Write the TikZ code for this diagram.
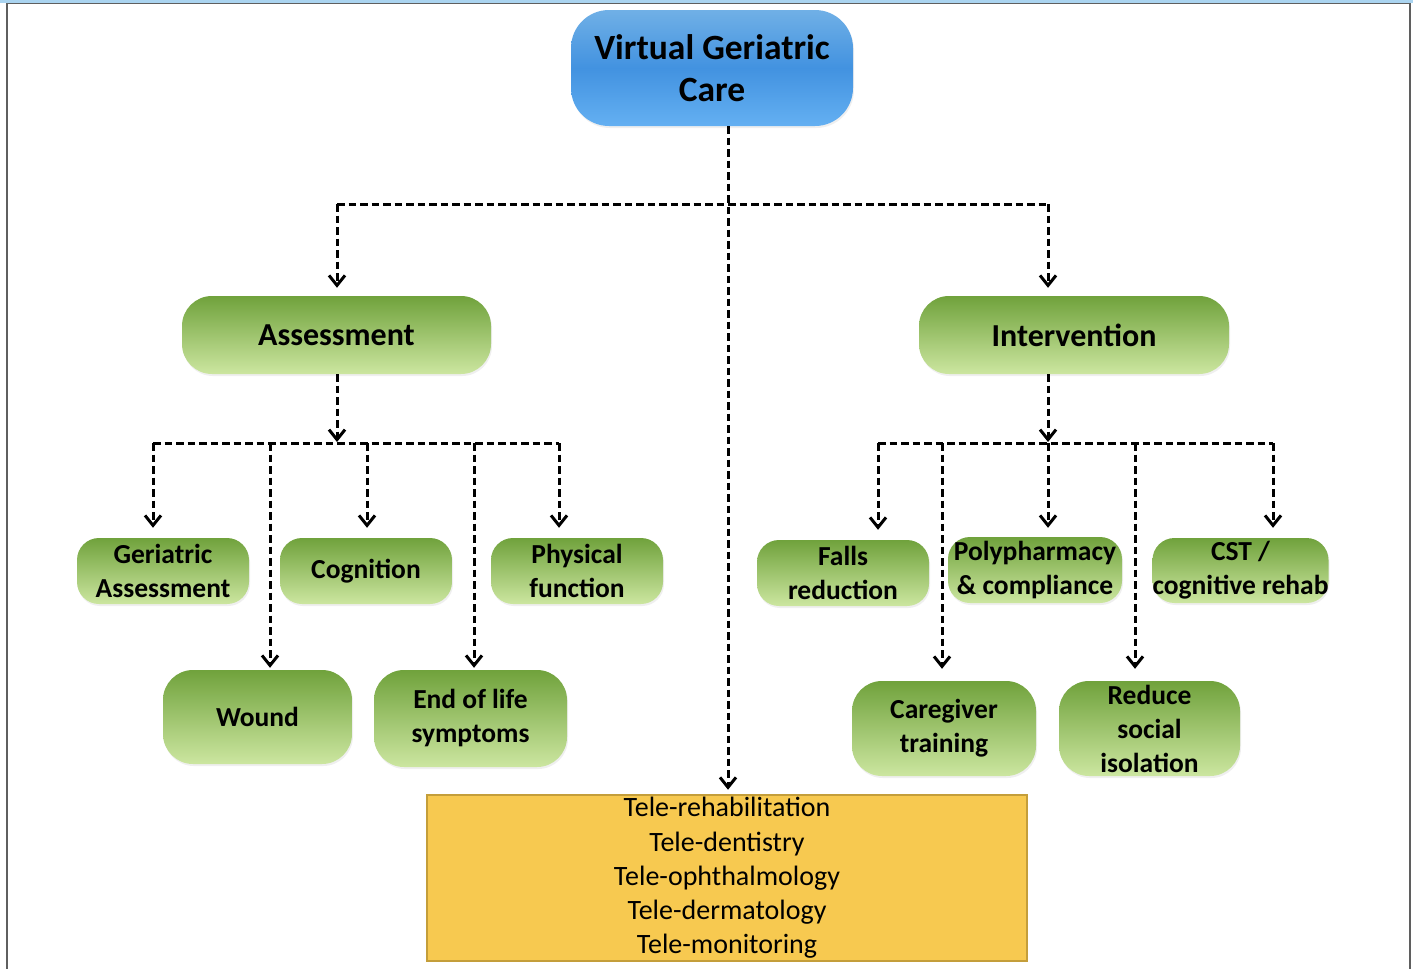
\documentclass[tikz,border=0pt]{standalone}
\usepackage{fontspec}
\setmainfont{Carlito}
\usetikzlibrary{arrows.meta,shadows}

\definecolor{gtop}{RGB}{112,162,60}
\definecolor{gbot}{RGB}{204,230,160}
\definecolor{btop}{RGB}{112,176,230}
\definecolor{bmid}{RGB}{66,146,224}
\definecolor{bbot}{RGB}{100,176,242}
\definecolor{yfill}{RGB}{247,201,80}
\definecolor{ydraw}{RGB}{196,158,58}
\definecolor{framegray}{RGB}{95,95,95}
\definecolor{frameblue}{RGB}{170,212,240}

\begin{document}
\begin{tikzpicture}[x=1pt,y=-1pt,
  gbox/.style={rounded corners=22pt, top color=gtop, bottom color=gbot, draw=none,
    align=center, font=\bfseries\fontsize{27.5}{34}\selectfont, inner sep=0pt,
    drop shadow={opacity=0.13, shadow xshift=1pt, shadow yshift=-2pt}},
  bigg/.style={gbox, rounded corners=30pt, font=\bfseries\fontsize{32}{38}\selectfont},
  tallg/.style={gbox, rounded corners=30pt},
  bbox/.style={rounded corners=38pt, top color=btop, bottom color=bbot, middle color=bmid,
    draw=none, align=center, font=\bfseries\fontsize{35.5}{42}\selectfont, inner sep=0pt,
    drop shadow={opacity=0.13, shadow xshift=1pt, shadow yshift=-2pt}},
  ybox/.style={fill=yfill, draw=ydraw, line width=2.5pt, align=center,
    font=\fontsize{28}{34.2}\selectfont, inner sep=0pt},
  dashline/.style={line width=3pt, dash pattern=on 7.5pt off 4pt},
  darrow/.style={dashline, -{Straight Barb[length=10pt,width=16pt]}}
]
\useasboundingbox (0,0) rectangle (1413,969);
% frame
\fill[frameblue] (0,0) rectangle (1413,3);
\draw[framegray, line width=1.5pt] (7,3.6) -- (1410,3.6);
\draw[framegray, line width=2.5pt] (7,3) -- (7,969);
\draw[framegray, line width=2.5pt] (1410,3) -- (1410,969);

% nodes
\node[bbox, minimum width=282pt, minimum height=116pt] (top) at (712,68) {Virtual Geriatric\\Care};
\node[bigg, minimum width=309pt, minimum height=78pt] (ass) at (336.5,335) {Assessment};
\node[bigg, minimum width=310pt, minimum height=78pt] (int) at (1074,335) {Intervention};

\node[gbox, minimum width=172pt, minimum height=66pt] (ga) at (163,571) {Geriatric\\Assessment};
\node[gbox, minimum width=172pt, minimum height=66pt] (cog) at (366,571) {Cognition};
\node[gbox, minimum width=172pt, minimum height=66pt] (phys) at (577,571) {Physical\\function};
\node[tallg, minimum width=189pt, minimum height=94pt] (wound) at (257.5,717) {Wound};
\node[tallg, minimum width=193pt, minimum height=97pt] (eol) at (470.5,718.5) {End of life\\symptoms};

\node[gbox, minimum width=172pt, minimum height=66pt] (falls) at (843,573) {Falls\\reduction};
\node[gbox, minimum width=174pt, minimum height=66pt] (poly) at (1035,570) {Polypharmacy\\\& compliance};
\node[gbox, minimum width=171pt, minimum height=65pt] (cst) at (1240.5,570.5) {CST /\\cognitive rehab};
\node[tallg, minimum width=184pt, minimum height=95pt] (care) at (944,728.5) {Caregiver\\training};
\node[tallg, minimum width=181pt, minimum height=95pt] (red) at (1149.5,728.5) {Reduce\\social\\isolation};

\node[ybox, minimum width=600pt, minimum height=166pt] (tele) at (727,878)
  {Tele-rehabilitation\\Tele-dentistry\\Tele-ophthalmology\\Tele-dermatology\\Tele-monitoring};

% junction coordinates
\coordinate (j0) at (728,204);
\coordinate (jl) at (337,204);
\coordinate (jr) at (1048,204);
\coordinate (aj) at (337,443);
\coordinate (al) at (153,443);
\coordinate (aw) at (270,443);
\coordinate (ac) at (367,443);
\coordinate (ae) at (474,443);
\coordinate (ar) at (559,443);
\coordinate (ij) at (1048,443);
\coordinate (il) at (878,443);
\coordinate (ic) at (942,443);
\coordinate (ip) at (1048,443);
\coordinate (is) at (1135,443);
\coordinate (ir) at (1273,443);

% top level connectors
\draw[darrow, shorten >=4pt] (top.south -| j0) -- (tele.north -| j0);
\draw[dashline] (jl) -- (jr);
\draw[darrow, shorten >=8pt] (jl) -- (jl |- ass.north);
\draw[darrow, shorten >=8pt] (jr) -- (jr |- int.north);

% assessment branch
\draw[darrow, shorten >=1pt] (ass.south -| aj) -- (aj);
\draw[dashline] (al) -- (ar);
\draw[darrow, shorten >=10pt] (al) -- (al |- ga.north);
\draw[darrow, shorten >=2pt] (aw) -- (aw |- wound.north);
\draw[darrow, shorten >=10pt] (ac) -- (ac |- cog.north);
\draw[darrow, shorten >=2pt] (ae) -- (ae |- eol.north);
\draw[darrow, shorten >=10pt] (ar) -- (ar |- phys.north);

% intervention branch
\draw[darrow, shorten >=1pt] (int.south -| ij) -- (ij);
\draw[dashline] (il) -- (ir);
\draw[darrow, shorten >=10pt] (il) -- (il |- falls.north);
\draw[darrow, shorten >=12pt] (ic) -- (ic |- care.north);
\draw[darrow, shorten >=9pt] (ip) -- (ip |- poly.north);
\draw[darrow, shorten >=12pt] (is) -- (is |- red.north);
\draw[darrow, shorten >=10pt] (ir) -- (ir |- cst.north);
\end{tikzpicture}
\end{document}
